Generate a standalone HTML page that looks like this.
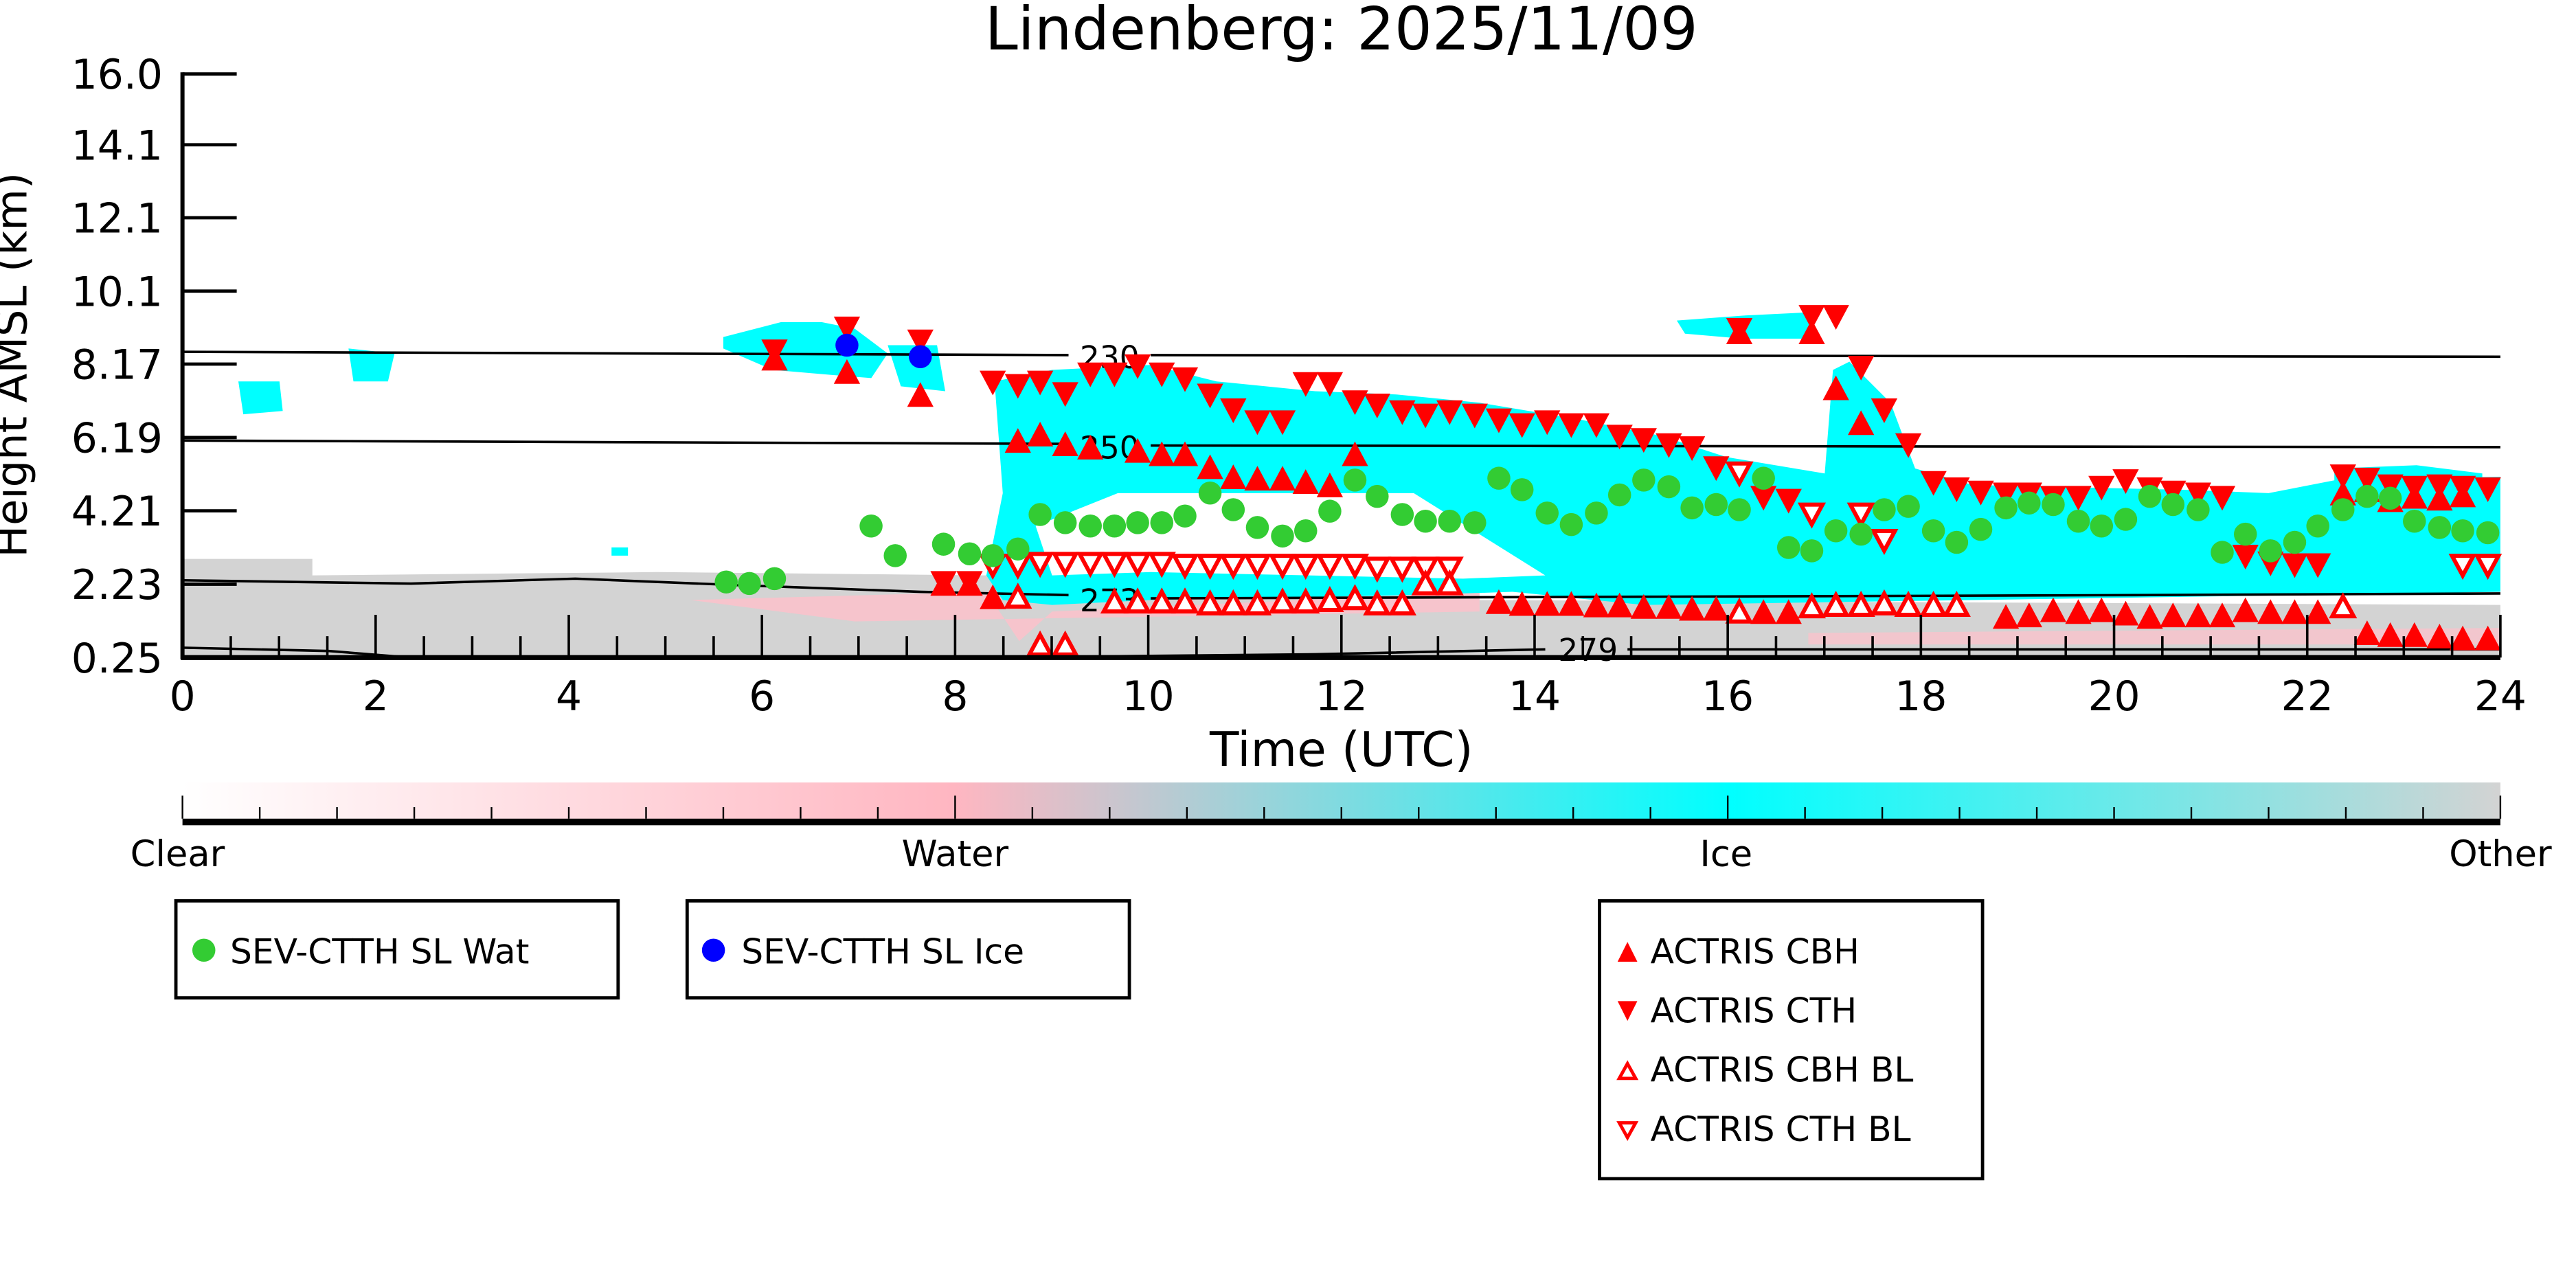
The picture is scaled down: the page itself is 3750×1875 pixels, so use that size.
<!DOCTYPE html>
<html><head><meta charset="utf-8"><style>
html,body{margin:0;padding:0;background:#fff}
svg{display:block}
text{font-family:"DejaVu Sans","Liberation Sans",sans-serif;fill:#000}
</style></head><body>
<svg id="chart" width="3750" height="1875" viewBox="0 0 1567 783.5" preserveAspectRatio="none" xmlns="http://www.w3.org/2000/svg">
<defs>
<linearGradient id="cbar" x1="0" x2="1" y1="0" y2="0">
<stop offset="0" stop-color="#ffffff"/><stop offset="0.333" stop-color="#ffb6c1"/><stop offset="0.667" stop-color="#00ffff"/><stop offset="1" stop-color="#d3d3d3"/>
</linearGradient>
</defs>
<text x="816" y="30" font-size="36" text-anchor="middle">Lindenberg: 2025/11/09</text>
<g id="bg">
<polygon fill="#d3d3d3" points="111,340 190,340 190,350 400,348 600,350 900,355 900,365 1521,368 1521,400 111,400"/>
<polygon fill="#ffc0cb" opacity="0.8" points="420,365 600,360 620,390 640,372 900,360 900,372 520,378"/>
<polygon fill="#ffc0cb" opacity="0.7" points="1100,385 1521,382 1521,392 1100,392"/>
<polygon fill="#00ffff" points="605,232 640,225 700,222 740,232 800,238 850,240 900,245 960,255 1010,265 1050,278 1110,288 1115,225 1125,220 1150,245 1165,285 1200,295 1330,298 1380,300 1421,292 1521,290 1521,360 1400,362 1200,365 1000,368 920,360 860,362 700,365 640,368 610,365 600,350 610,300"/>
<polygon fill="#ffffff" points="680,300 860,300 900,325 940,350 890,352 700,348 640,350 630,320"/>
<polygon fill="#00ffff" points="145,232 170,232 172,250 148,252"/>
<polygon fill="#00ffff" points="212,212 240,215 236,232 215,232"/>
<polygon fill="#00ffff" points="440,205 475,196 500,196 520,200 540,215 530,230 505,228 470,225 440,212"/>
<polygon fill="#00ffff" points="540,210 570,210 575,238 548,235"/>
<polygon fill="#00ffff" points="1020,195 1060,192 1100,190 1102,206 1060,206 1025,203"/>
<polygon fill="#00ffff" points="1420,285 1470,283 1510,288 1510,300 1420,300"/>
<polygon fill="#00ffff" points="372,333 382,333 382,338 372,338"/>
</g>
<g id="contours" fill="none" stroke="#000" stroke-width="1.5">
<path d="M111,214 L650,216 M700,216 L1521,217"/>
<path d="M111,268 L650,270 M700,271 L1521,272"/>
<path d="M111,353 L250,355 L350,352 L450,356 L560,360 L650,362 M700,364 L1000,363 L1300,362 L1521,361"/>
<path d="M111,394 L200,396 L250,400 M330,400 L600,400 L800,398 L940,395 M990,395 L1521,395"/>
</g>
<g font-size="19">
<text x="675" y="224" text-anchor="middle">230</text>
<text x="675" y="279" text-anchor="middle">250</text>
<text x="675" y="372" text-anchor="middle">273</text>
<text x="966" y="402" text-anchor="middle">279</text>
</g>
<g id="marks"></g>
<g id="axes"></g>
<text x="816" y="466" font-size="29" text-anchor="middle">Time (UTC)</text>
<text transform="translate(16,222) rotate(-90)" font-size="26" text-anchor="middle">Height AMSL (km)</text>
<g>
<rect x="111" y="476" width="1410" height="23" fill="url(#cbar)"/>
<rect x="111" y="498" width="1410" height="4" fill="#000"/>
<g id="cbticks" stroke="#000" stroke-width="1"></g>
<g font-size="22">
<text x="108" y="527" text-anchor="middle">Clear</text>
<text x="581" y="527" text-anchor="middle">Water</text>
<text x="1050" y="527" text-anchor="middle">Ice</text>
<text x="1521" y="527" text-anchor="middle">Other</text>
</g>
</g>
<g>
<rect x="107" y="548" width="269" height="59" fill="#fff" stroke="#000" stroke-width="2"/>
<circle cx="124" cy="578" r="7" fill="#33cc33"/>
<text x="140" y="586" font-size="21">SEV-CTTH SL Wat</text>
</g>
<g>
<rect x="418" y="548" width="269" height="59" fill="#fff" stroke="#000" stroke-width="2"/>
<circle cx="434" cy="578" r="7" fill="#0000ff"/>
<text x="451" y="586" font-size="21">SEV-CTTH SL Ice</text>
</g>
<g>
<rect x="973" y="548" width="233" height="169" fill="#fff" stroke="#000" stroke-width="2"/>
<polygon points="984,585 996,585 990,573" fill="#ff0000"/>
<text x="1004" y="586" font-size="21">ACTRIS CBH</text>
<polygon points="984,609 996,609 990,621" fill="#ff0000"/>
<text x="1004" y="622" font-size="21">ACTRIS CTH</text>
<polygon points="985,656 995,656 990,647" fill="#fff" stroke="#ff0000" stroke-width="2"/>
<text x="1004" y="658" font-size="21">ACTRIS CBH BL</text>
<polygon points="985,683 995,683 990,692" fill="#fff" stroke="#ff0000" stroke-width="2"/>
<text x="1004" y="694" font-size="21">ACTRIS CTH BL</text>
</g>
</svg>
<script>
const xTicks = [0,2,4,6,8,10,12,14,16,18,20,22,24];
const yTickLabels = ["0.25","2.23","4.21","6.19","8.17","10.1","12.1","14.1","16.0"];
const yTickValues = [0.25,2.23,4.21,6.19,8.17,10.14,12.12,14.09,16.0];
const watT = [5.63,5.87,6.13,7.13,7.38,7.88,8.15,8.39,8.65,8.88,9.14,9.40,9.65,9.89,10.14,10.38,10.64,10.88,11.13,11.39,11.63,11.88,12.14,12.37,12.63,12.87,13.12,13.38,13.63,13.87,14.13,14.38,14.64,14.88,15.13,15.39,15.63,15.88,16.12,16.37,16.63,16.87,17.12,17.38,17.62,17.87,18.13,18.37,18.62,18.88,19.12,19.37,19.63,19.87,20.12,20.37,20.61,20.87,21.12,21.36,21.62,21.87,22.11,22.37,22.62,22.86,23.11,23.37,23.61,23.87];
const watH = [2.29,2.25,2.38,3.80,3.00,3.31,3.05,3.00,3.18,4.11,3.89,3.80,3.80,3.89,3.89,4.07,4.69,4.24,3.76,3.53,3.67,4.20,5.04,4.60,4.11,3.93,3.93,3.89,5.09,4.78,4.15,3.84,4.15,4.64,5.04,4.86,4.29,4.38,4.24,5.09,3.22,3.13,3.67,3.58,4.24,4.33,3.67,3.36,3.71,4.29,4.42,4.38,3.93,3.80,3.98,4.60,4.38,4.24,3.09,3.58,3.13,3.36,3.80,4.24,4.60,4.55,3.93,3.76,3.67,3.62];
const iceT = [6.88,7.64];
const iceH = [8.68,8.37];
const cbhT = [6.13,6.88,7.64,7.88,8.15,8.39,8.65,8.88,9.14,9.40,9.89,10.14,10.38,10.64,10.88,11.13,11.39,11.63,11.88,12.14,13.63,13.87,14.13,14.38,14.64,14.88,15.13,15.39,15.63,15.88,16.12,16.37,16.63,16.87,17.12,17.38,18.88,19.12,19.37,19.63,19.87,20.12,20.37,20.61,20.87,21.12,21.36,21.62,21.87,22.11,22.37,22.62,22.86,23.11,23.37,23.61,23.87,22.62,22.86,23.11,23.37,23.61];
const cbhH = [8.33,7.97,7.35,2.25,2.25,1.89,6.11,6.28,6.02,5.93,5.84,5.75,5.75,5.40,5.13,5.09,5.09,5.00,4.91,5.75,1.76,1.71,1.71,1.71,1.67,1.67,1.63,1.63,1.58,1.58,9.04,1.49,1.49,9.04,7.53,6.59,1.36,1.40,1.54,1.49,1.54,1.45,1.36,1.40,1.40,1.40,1.54,1.49,1.49,1.49,4.69,0.92,0.87,0.87,0.83,0.78,0.78,4.78,4.51,4.60,4.55,4.64];
const cthT = [6.13,6.88,7.64,7.88,8.15,8.39,8.65,8.88,9.14,9.40,9.65,9.89,10.14,10.38,10.64,10.88,11.13,11.39,11.63,11.88,12.14,12.37,12.63,12.87,13.12,13.38,13.63,13.87,14.13,14.38,14.64,14.88,15.13,15.39,15.63,15.88,16.12,16.37,16.63,16.87,17.12,17.38,17.62,17.87,18.13,18.37,18.62,18.88,19.12,19.37,19.63,19.87,20.12,20.37,20.61,20.87,21.12,21.36,21.62,21.87,22.11,22.37,22.62,22.86,23.11,23.37,23.61,23.87];
const cthH = [8.50,9.12,8.77,2.25,2.25,7.66,7.57,7.66,7.35,7.88,7.88,8.10,7.88,7.75,7.31,6.91,6.59,6.59,7.62,7.62,7.13,7.04,6.86,6.77,6.86,6.77,6.64,6.51,6.59,6.51,6.51,6.20,6.11,5.97,5.89,5.35,9.08,4.55,4.47,9.43,9.43,8.06,6.91,5.97,4.95,4.78,4.69,4.64,4.64,4.55,4.55,4.82,5.00,4.78,4.69,4.64,4.55,2.96,2.78,2.73,2.73,5.13,5.04,4.86,4.82,4.86,4.82,4.78];
const cbhBlT = [8.65,8.88,9.14,9.65,9.89,10.14,10.38,10.64,10.88,11.13,11.39,11.63,11.88,12.14,12.37,12.63,12.87,13.12,16.12,16.87,17.12,17.38,17.62,17.87,18.13,18.37,22.37];
const cbhBlH = [1.89,0.60,0.60,1.76,1.76,1.76,1.76,1.71,1.71,1.71,1.76,1.76,1.80,1.85,1.71,1.71,2.25,2.25,1.49,1.63,1.67,1.67,1.71,1.67,1.67,1.67,1.63];
const cthBlT = [8.39,8.65,8.88,9.14,9.40,9.65,9.89,10.14,10.38,10.64,10.88,11.13,11.39,11.63,11.88,12.14,12.37,12.63,12.87,13.12,16.12,16.87,17.38,17.62,23.61,23.87];
const cthBlH = [2.73,2.73,2.78,2.78,2.78,2.78,2.78,2.78,2.73,2.73,2.73,2.73,2.73,2.73,2.73,2.73,2.65,2.65,2.65,2.65,5.22,4.11,4.11,3.40,2.73,2.73];

const X0=111,X1=1521,Y0=400,Y1=45;
function xs(t){return X0+(t-0)/24*(X1-X0);}
function ys(h){return Y0-(h-0.25)/(16-0.25)*(Y0-Y1);}
const NS='http://www.w3.org/2000/svg';
const marks=document.getElementById('marks');
function mk(tag,attrs,parent){const e=document.createElementNS(NS,tag);for(const k in attrs)e.setAttribute(k,attrs[k]);parent.appendChild(e);return e;}
function tri(t,h,up,fill,stroke){
  const open=stroke!=='none';
  const x=xs(t),y=ys(h),w=open?6.5:8,ht=open?12:15;
  const pts=up?`${x-w},${y+ht/2} ${x+w},${y+ht/2} ${x},${y-ht/2}`:`${x-w},${y-ht/2} ${x+w},${y-ht/2} ${x},${y+ht/2}`;
  return mk('polygon',{points:pts,fill:fill,stroke:stroke,'stroke-width':open?2.5:0},marks);
}
for(let i=0;i<cthBlT.length;i++){const e=tri(cthBlT[i],cthBlH[i],false,'#fff','#ff0000');

}
for(let i=0;i<cbhBlT.length;i++){const e=tri(cbhBlT[i],cbhBlH[i],true,'#fff','#ff0000');

}
for(let i=0;i<cthT.length;i++){const e=tri(cthT[i],cthH[i],false,'#ff0000','none');

}
for(let i=0;i<cbhT.length;i++){const e=tri(cbhT[i],cbhH[i],true,'#ff0000','none');

}
for(let i=0;i<watT.length;i++){const e=mk('circle',{cx:xs(watT[i]),cy:ys(watH[i]),r:7,fill:'#33cc33'},marks);

}
for(let i=0;i<iceT.length;i++){const e=mk('circle',{cx:xs(iceT[i]),cy:ys(iceH[i]),r:7,fill:'#0000ff'},marks);

}

const ax=document.getElementById('axes');
mk('line',{x1:X0,y1:Y1-1,x2:X0,y2:Y0+1,stroke:'#000','stroke-width':2.5},ax);
mk('line',{x1:X0-1,y1:Y0,x2:X1,y2:Y0,stroke:'#000','stroke-width':3},ax);
for(let i=0;i<yTickValues.length;i++){
  const y=ys(yTickValues[i]);
  mk('line',{x1:X0,y1:y,x2:X0+33,y2:y,stroke:'#000','stroke-width':2},ax);
  const t=mk('text',{x:X0-12,y:y+9,'font-size':25,'text-anchor':'end'},ax);t.textContent=yTickLabels[i];
  
  
}
for(let h=0;h<=24;h+=0.5){
  const x=xs(h),major=(h%2===0);
  mk('line',{x1:x,y1:Y0,x2:x,y2:Y0-(major?26:13),stroke:'#000','stroke-width':1.5},ax);
}
for(let i=0;i<xTicks.length;i++){
  const t=mk('text',{x:xs(xTicks[i]),y:Y0+32,'font-size':25,'text-anchor':'middle'},ax);t.textContent=xTicks[i];
  
  
}
const cb=document.getElementById('cbticks');
for(let i=0;i<=30;i++){
  const x=111+i*1410/30,major=(i%10===0);
  mk('line',{x1:x,y1:498,x2:x,y2:498-(major?14:7)},cb);
}
</script>
</body></html>
